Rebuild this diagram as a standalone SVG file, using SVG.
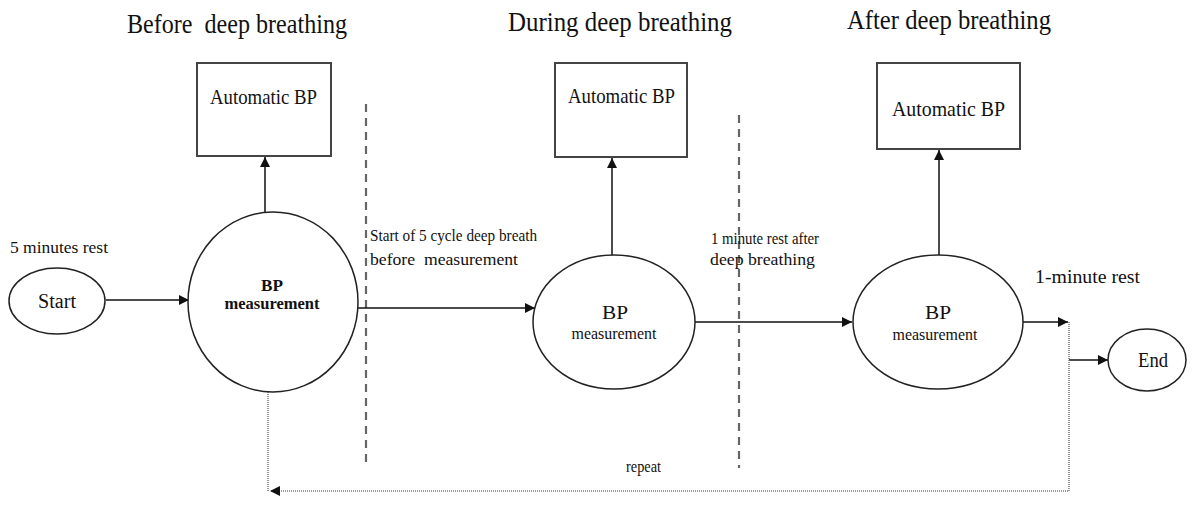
<svg xmlns="http://www.w3.org/2000/svg" width="1193" height="523" viewBox="0 0 1193 523">
<defs>
<style>
text{font-family:"Liberation Serif","Times New Roman",serif;fill:#111;white-space:pre}
.title{font-size:27px}
.box{fill:#fff;stroke:#444;stroke-width:2}
.node{fill:#fff;stroke:#222;stroke-width:1.5}
.conn{fill:none;stroke:#111;stroke-width:1.5}
.dash{fill:none;stroke:#666;stroke-width:2.2;stroke-dasharray:8 6}
.dot{fill:none;stroke:#777;stroke-width:1.5;stroke-dasharray:1 1}
</style>
<marker id="arr" viewBox="0 0 10 10" refX="10" refY="5" markerWidth="10" markerHeight="10" markerUnits="userSpaceOnUse" orient="auto">
<path d="M0,0 L10,5 L0,10 z" fill="#111"/>
</marker>
</defs>
<rect width="1193" height="523" fill="#fff"/>

<g id="titles">
<text class="title" x="127" y="33" xml:space="preserve" textLength="220" lengthAdjust="spacingAndGlyphs">Before  deep breathing</text>
<text class="title" x="508" y="31" textLength="224" lengthAdjust="spacingAndGlyphs">During deep breathing</text>
<text class="title" x="847" y="29" textLength="204" lengthAdjust="spacingAndGlyphs">After deep breathing</text>
</g>

<g id="dividers">
<line class="dash" x1="366" y1="104" x2="366" y2="462"/>
<line class="dash" x1="739" y1="115" x2="739" y2="468"/>
</g>

<g id="connectors">
<line class="conn" x1="106" y1="300" x2="189" y2="300" marker-end="url(#arr)"/>
<line class="conn" x1="265" y1="212" x2="265" y2="157" marker-end="url(#arr)"/>
<line class="conn" x1="357" y1="308" x2="535" y2="308" marker-end="url(#arr)"/>
<line class="conn" x1="612" y1="255" x2="612" y2="158" marker-end="url(#arr)"/>
<line class="conn" x1="695" y1="322" x2="852" y2="322" marker-end="url(#arr)"/>
<line class="conn" x1="939" y1="255" x2="939" y2="150" marker-end="url(#arr)"/>
<line class="conn" x1="1023" y1="322" x2="1068" y2="322" marker-end="url(#arr)"/>
<line class="conn" x1="1069" y1="360" x2="1108" y2="360" marker-end="url(#arr)"/>
<path class="dot" d="M1069,322 V491 H270" marker-end="url(#arr)"/>
<line class="dot" x1="268" y1="392" x2="268" y2="491"/>
</g>

<g id="labels">
<text x="10" y="253" font-size="17" textLength="98" lengthAdjust="spacingAndGlyphs">5 minutes rest</text>
<text x="370" y="241" font-size="17" textLength="167" lengthAdjust="spacingAndGlyphs">Start of 5 cycle deep breath</text>
<text x="370" y="265" font-size="17" xml:space="preserve" textLength="148" lengthAdjust="spacingAndGlyphs">before  measurement</text>
<text x="711" y="244" font-size="17" textLength="108" lengthAdjust="spacingAndGlyphs">1 minute rest after</text>
<text x="710" y="265" font-size="17" textLength="105" lengthAdjust="spacingAndGlyphs">deep breathing</text>
<text x="1035" y="283" font-size="19" textLength="105" lengthAdjust="spacingAndGlyphs">1-minute rest</text>
<text x="626" y="472" font-size="17" textLength="35" lengthAdjust="spacingAndGlyphs">repeat</text>
</g>

<g id="start">
<ellipse class="node" cx="57" cy="301" rx="48" ry="33"/>
<text x="57" y="308" font-size="20" text-anchor="middle" textLength="38" lengthAdjust="spacingAndGlyphs">Start</text>
</g>

<g id="bp1">
<ellipse class="node" cx="273" cy="302" rx="85" ry="90"/>
<text x="272" y="291" font-size="17" font-weight="bold" text-anchor="middle" textLength="22" lengthAdjust="spacingAndGlyphs">BP</text>
<text x="272" y="309" font-size="16" font-weight="bold" text-anchor="middle" textLength="95" lengthAdjust="spacingAndGlyphs">measurement</text>
</g>

<g id="auto1">
<rect class="box" x="197" y="63" width="134" height="93"/>
<text x="210" y="104" font-size="21" textLength="107" lengthAdjust="spacingAndGlyphs">Automatic BP</text>
</g>

<g id="bp2">
<ellipse class="node" cx="614" cy="322" rx="81" ry="67"/>
<text x="615" y="319" font-size="19" text-anchor="middle" textLength="26" lengthAdjust="spacingAndGlyphs">BP</text>
<text x="614" y="339" font-size="16" text-anchor="middle" textLength="85" lengthAdjust="spacingAndGlyphs">measurement</text>
</g>

<g id="auto2">
<rect class="box" x="555" y="63" width="132" height="94"/>
<text x="568" y="103" font-size="21" textLength="107" lengthAdjust="spacingAndGlyphs">Automatic BP</text>
</g>

<g id="bp3">
<ellipse class="node" cx="938" cy="322" rx="85" ry="67"/>
<text x="938" y="319" font-size="19" text-anchor="middle" textLength="26" lengthAdjust="spacingAndGlyphs">BP</text>
<text x="935" y="340" font-size="16" text-anchor="middle" textLength="85" lengthAdjust="spacingAndGlyphs">measurement</text>
</g>

<g id="auto3">
<rect class="box" x="877" y="63" width="143" height="86"/>
<text x="892" y="116" font-size="22" textLength="113" lengthAdjust="spacingAndGlyphs">Automatic BP</text>
</g>

<g id="end">
<ellipse class="node" cx="1147" cy="360" rx="39" ry="31"/>
<text x="1153" y="367" font-size="20" text-anchor="middle" textLength="30" lengthAdjust="spacingAndGlyphs">End</text>
</g>
</svg>
